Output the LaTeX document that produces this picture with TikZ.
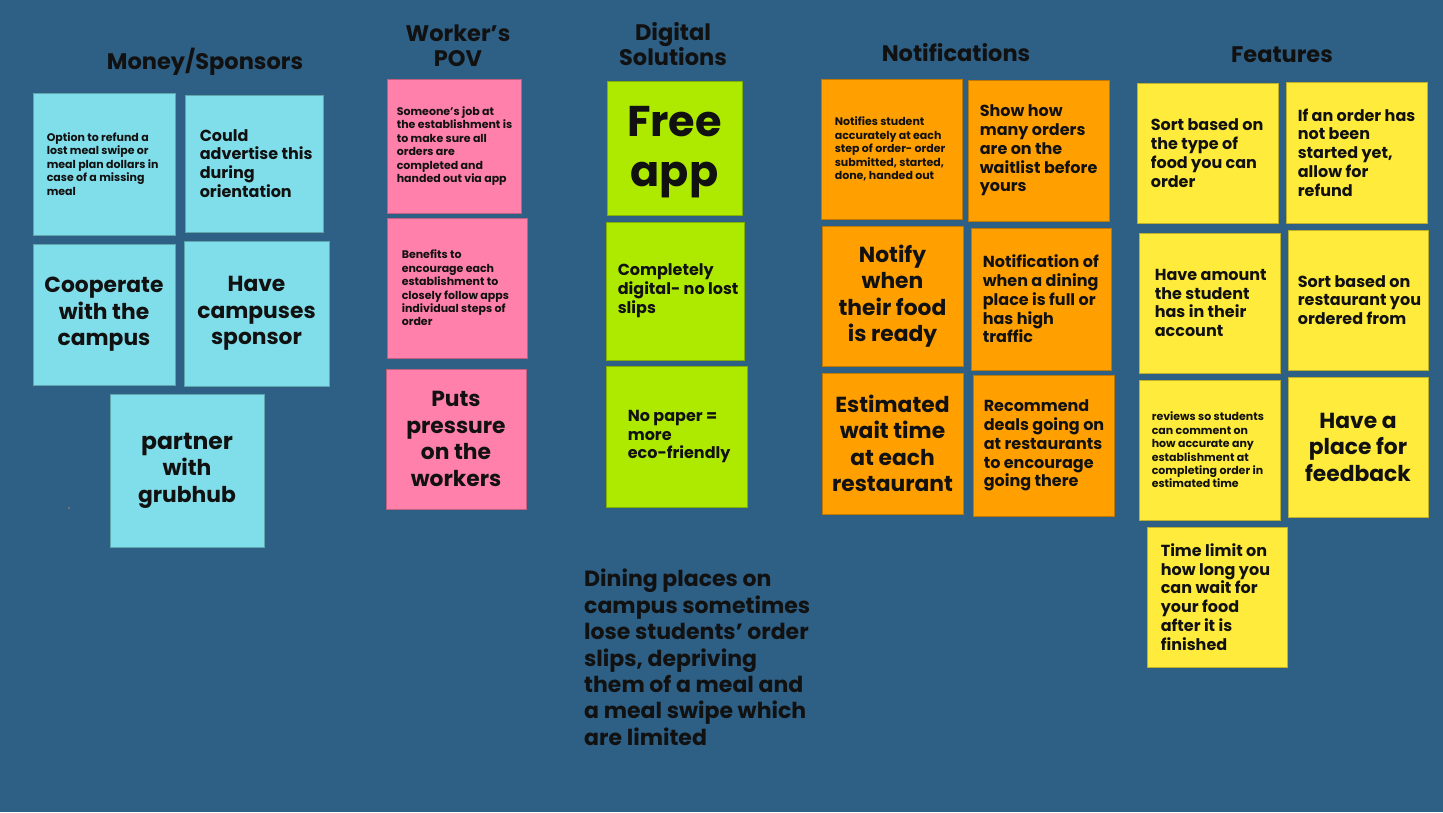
\documentclass[tikz,border=0pt]{standalone}
\usepackage{fontspec}
\setmainfont{Poppins}
\newcommand{\apos}{{\char"0027}}
\begin{document}
\definecolor{board}{RGB}{46,95,133}
\definecolor{cyannote}{RGB}{128,222,234}
\definecolor{pinknote}{RGB}{255,128,171}
\definecolor{greennote}{RGB}{174,234,0}
\definecolor{orangenote}{RGB}{255,160,0}
\definecolor{yellownote}{RGB}{255,235,59}
\definecolor{ink}{RGB}{17,17,17}
\tikzset{
  every node/.style={text=ink, font=\bfseries},
  note/.style={draw=#1!75!black, line width=0.8pt, fill=#1, inner sep=0pt},
  heading/.style={font=\bfseries\fontsize{22.5}{25}\selectfont, align=center},
  small/.style={font=\bfseries\fontsize{11}{13.4}\selectfont},
  medium/.style={font=\bfseries\fontsize{16}{18.8}\selectfont},
  big/.style={font=\bfseries\fontsize{21.8}{26.5}\selectfont},
  huge/.style={font=\bfseries\fontsize{43}{50}\selectfont},
}
% left-aligned note: \stickyl{name}{cx}{cy}{w}{h}{colour}{left padding}{text style}{text}
\newcommand{\stickyl}[9]{%
  \node[note=#6, minimum width=#4pt, minimum height=#5pt] (#1) at (#2,#3) {};
  \node[#8, align=left, anchor=west, inner sep=0pt] (#1-text) at ([xshift=#7pt]#1.west) {#9};}
% centred note: \stickyc{name}{cx}{cy}{w}{h}{colour}{text style}{text}
\newcommand{\stickyc}[8]{%
  \node[note=#6, minimum width=#4pt, minimum height=#5pt] (#1) at (#2,#3) {};
  \node[#7, align=center, inner sep=0pt] (#1-text) at (#1.center) {#8};}
\begin{tikzpicture}[x=1pt,y=-1pt]
\fill[board] (0,0) rectangle (1443,812);
\useasboundingbox (0,0) rectangle (1443,812);

% column headings
\node[heading] (hmoney) at (205,62) {Money/Sponsors};
\node[heading] (hworker) at (458,46) {Worker\apos s\\POV};
\node[heading] (hdigital) at (673,44) {Digital\\Solutions};
\node[heading] (hnotif) at (956,53) {Notifications};
\node[heading] (hfeat) at (1282,55) {Features};

% Money/Sponsors
\stickyl{m1}{104}{164}{142}{142}{cyannote}{14}{small}{Option to refund a\\lost meal swipe or\\meal plan dollars in\\case of a missing\\meal}
\stickyl{m2}{254}{163.5}{138}{137}{cyannote}{15}{medium}{Could\\advertise this\\during\\orientation}
\stickyc{m3}{104}{314.5}{142}{141}{cyannote}{big}{Cooperate\\with the\\campus}
\stickyc{m4}{256.5}{313.5}{145}{145}{cyannote}{big}{Have\\campuses\\sponsor}
\stickyc{m5}{187}{470.5}{154}{153}{cyannote}{big}{\fontsize{23.5}{29}\selectfont partner\\with\\grubhub}
\fill[black!55] (69,508) circle (1.3);

% Worker's POV
\stickyl{w1}{454}{146}{134}{134}{pinknote}{10}{small}{Someone\apos s job at\\the establishment is\\to make sure all\\orders are\\completed and\\handed out via app}
\stickyl{w2}{457}{288}{140}{140}{pinknote}{15}{small}{Benefits to\\encourage each\\establishment to\\closely follow apps\\individual steps of\\order}
\stickyc{w3}{456}{439}{140}{140}{pinknote}{big}{Puts\\pressure\\on the\\workers}

% Digital Solutions
\node[note=greennote, minimum width=135pt, minimum height=134pt] (d1) at (674.5,148) {};
\node[huge, align=center, inner sep=0pt] (d1-text) at ([yshift=-4pt]d1.center) {Free\\app};
\stickyl{d2}{675}{291}{138}{138}{greennote}{12}{medium}{Completely\\digital- no lost\\slips}
\stickyl{d3}{676.5}{436.5}{141}{141}{greennote}{22}{medium}{No paper =\\more\\eco-friendly}

\node[anchor=north west, font=\bfseries\fontsize{22}{26.4}\selectfont, align=left, inner sep=0pt]
  (problem) at (584,569) {Dining places on\\campus sometimes\\lose students’ order\\slips, depriving\\them of a meal and\\a meal swipe which\\are limited};

% Notifications
\stickyl{n1}{891.5}{149}{141}{140}{orangenote}{14}{small}{Notifies student\\accurately at each\\step of order- order\\submitted, started,\\done, handed out}
\stickyl{n2}{1038.5}{150.5}{141}{141}{orangenote}{12}{medium}{Show how\\many orders\\are on the\\waitlist before\\yours}
\stickyc{n3}{892.5}{296}{141}{140}{orangenote}{big}{Notify\\when\\their food\\is ready}
\stickyl{n4}{1041}{299}{140}{142}{orangenote}{12}{medium}{Notification of\\when a dining\\place is full or\\has high\\traffic}
\stickyc{n5}{892.5}{443.5}{141}{141}{orangenote}{big}{Estimated\\wait time\\at each\\restaurant}
\stickyl{n6}{1043.5}{445.5}{141}{141}{orangenote}{11}{medium}{Recommend\\deals going on\\at restaurants\\to encourage\\going there}

% Features
\stickyl{f1}{1207.5}{153}{141}{140}{yellownote}{14}{medium}{Sort based on\\the type of\\food you can\\order}
\stickyl{f2}{1356.5}{152.5}{141}{141}{yellownote}{12}{medium}{If an order has\\not been\\started yet,\\allow for\\refund}
\stickyl{f3}{1209.5}{303}{141}{140}{yellownote}{16}{medium}{Have amount\\the student\\has in their\\account}
\stickyl{f4}{1358}{300}{140}{140}{yellownote}{10}{medium}{Sort based on\\restaurant you\\ordered from}
\stickyl{f5}{1209.5}{450}{141}{140}{yellownote}{13}{small}{reviews so students\\can comment on\\how accurate any\\establishment at\\completing order in\\estimated time}
\stickyc{f6}{1358}{447}{140}{140}{yellownote}{big}{Have a\\place for\\feedback}
\stickyl{f7}{1217}{597}{140}{140}{yellownote}{14}{medium}{Time limit on\\how long you\\can wait for\\your food\\after it is\\finished}
\end{tikzpicture}
\end{document}
